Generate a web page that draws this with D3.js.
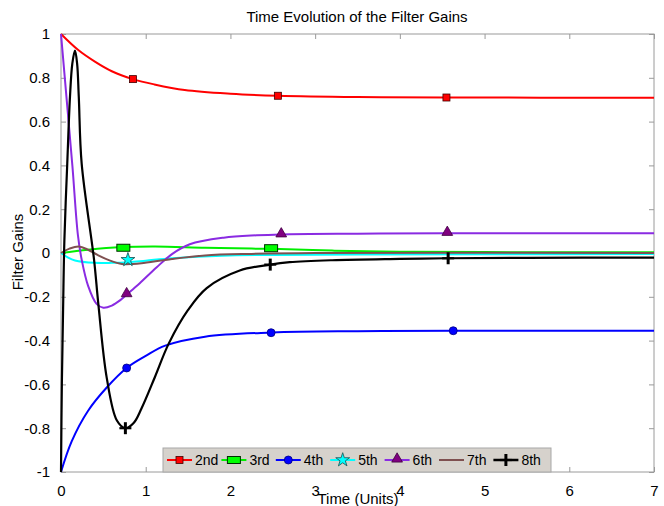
<!DOCTYPE html>
<html>
<head>
<meta charset="utf-8">
<script src="https://cdn.jsdelivr.net/npm/d3@7"></script>
<style>
  body { margin: 0; background: #fff; }
  text { font-family: "Liberation Sans", Arial, sans-serif; fill: #000; }
</style>
</head>
<body>
<div id="chart"></div>
<script>
// values
const xTicks = [0, 1, 2, 3, 4, 5, 6, 7];
const yTicks = [-1, -0.8, -0.6, -0.4, -0.2, 0, 0.2, 0.4, 0.6, 0.8, 1];
const yTickLabels = ["-1", "-0.8", "-0.6", "-0.4", "-0.2", "0", "0.2", "0.4", "0.6", "0.8", "1"];

const t2 = [0, 0.2, 0.4, 0.6, 0.85, 1.1, 1.46, 2, 2.56, 3.5, 4.55, 7];
const v2 = [1, 0.928, 0.874, 0.83, 0.794, 0.77, 0.744, 0.727, 0.718, 0.712, 0.71, 0.709];

const t3 = [0, 0.32, 0.72, 1.11, 1.7, 2.25, 2.48, 3.2, 4, 5, 7];
const v3 = [0, 0.015, 0.027, 0.03, 0.024, 0.02, 0.019, 0.011, 0.006, 0.004, 0.003];

const t4 = [0, 0.126, 0.32, 0.54, 0.775, 1.0, 1.23, 1.7, 2.49, 3.5, 4.63, 7];
const v4 = [-1, -0.86, -0.72, -0.614, -0.525, -0.47, -0.423, -0.382, -0.363, -0.357, -0.355, -0.355];

const t5 = [0, 0.08, 0.165, 0.4, 0.6, 0.795, 1.0, 1.31, 1.9, 2.5, 3.5, 5, 7];
const v5 = [0, -0.02, -0.034, -0.045, -0.045, -0.042, -0.035, -0.024, -0.012, -0.009, -0.007, -0.006, -0.005];

const t6 = [0, 0.067, 0.134, 0.2, 0.244, 0.32, 0.42, 0.5, 0.6, 0.7, 0.775, 0.85, 0.93, 1.13, 1.31, 1.52, 1.92, 2.31, 2.6, 3.5, 4.55, 7];
const v6 = [1, 0.7, 0.4, 0.08, -0.03, -0.15, -0.232, -0.25, -0.24, -0.215, -0.19, -0.165, -0.138, -0.065, -0.005, 0.04, 0.07, 0.081, 0.085, 0.088, 0.09, 0.09];

const t7 = [0, 0.1, 0.21, 0.32, 0.44, 0.58, 0.72, 0.85, 0.95, 1.31, 1.7, 2.25, 3, 7];
const v7 = [0, 0.02, 0.03, 0.015, -0.011, -0.035, -0.05, -0.05, -0.047, -0.027, -0.011, -0.004, 0, 0];

const t8 = [0, 0.01, 0.025, 0.04, 0.074, 0.106, 0.134, 0.165, 0.19, 0.21, 0.244, 0.39, 0.44, 0.54, 0.66, 0.76, 0.86, 0.95, 1.11, 1.27, 1.5, 1.72, 2.11, 2.47, 2.7, 3.2, 4.0, 4.55, 5.5, 7];
const v8 = [-1, -0.6, -0.25, 0.06, 0.41, 0.713, 0.866, 0.924, 0.866, 0.713, 0.408, -0.03, -0.23, -0.57, -0.765, -0.8, -0.775, -0.71, -0.565, -0.415, -0.26, -0.16, -0.08, -0.053, -0.042, -0.033, -0.027, -0.024, -0.022, -0.021];

// marker positions
const m2t = [0.85, 2.56, 4.55], m2v = [0.794, 0.718, 0.71];
const m3t = [0.736, 2.48], m3v = [0.024, 0.022];
const m4t = [0.775, 2.48, 4.63], m4v = [-0.525, -0.364, -0.355];
const m5t = [0.79], m5v = [-0.031];
const m6t = [0.775, 2.6, 4.56], m6v = [-0.19, 0.083, 0.09];
const m7t = [], m7v = [];
const m8t = [0.76, 2.47, 4.57], m8v = [-0.8, -0.053, -0.024];

const names = ["2nd", "3rd", "4th", "5th", "6th", "7th", "8th"];
const colors = ["#ff0000", "#00ee00", "#0000ff", "#00ffff", "#8a2be2", "#7f5050", "#000000"];
const markerFill = ["#ff0000", "#00ff00", "#0000ff", "#00ffff", "#800080", null, "#000000"];
const markerType = ["square", "rect", "circle", "star", "triangle", "none", "plus"];

const series = [
  {t: t2, v: v2, mt: m2t, mv: m2v},
  {t: t3, v: v3, mt: m3t, mv: m3v},
  {t: t4, v: v4, mt: m4t, mv: m4v},
  {t: t5, v: v5, mt: m5t, mv: m5v},
  {t: t6, v: v6, mt: m6t, mv: m6v},
  {t: t7, v: v7, mt: m7t, mv: m7v},
  {t: t8, v: v8, mt: m8t, mv: m8v}
];

const width = 664, height = 506;
const pLeft = 61, pRight = 654, pTop = 34, pBottom = 472;

const svg = d3.select("#chart").append("svg")
  .attr("width", width)
  .attr("height", height);

const x = d3.scaleLinear().domain([0, 7]).range([pLeft, pRight]);
const y = d3.scaleLinear().domain([-1, 1]).range([pBottom, pTop]);

// frame
svg.append("rect")
  .attr("x", pLeft).attr("y", pTop)
  .attr("width", pRight - pLeft).attr("height", pBottom - pTop)
  .attr("fill", "none").attr("stroke", "#9a9a9a").attr("stroke-width", 1);

// axes with inward ticks on all four sides
const axisStyle = g => {
  g.select(".domain").remove();
  g.selectAll(".tick line").attr("stroke", "#9a9a9a");
  g.selectAll(".tick text").style("font-size", "15px").attr("fill", "#000");
};

svg.append("g").attr("transform", `translate(0,${pBottom})`)
  .call(d3.axisBottom(x).tickValues(xTicks).tickSizeInner(-5).tickPadding(13).tickFormat(d3.format("d")))
  .call(axisStyle);
svg.append("g").attr("transform", `translate(0,${pTop})`)
  .call(d3.axisTop(x).tickValues(xTicks).tickSizeInner(-5).tickFormat(""))
  .call(axisStyle);
svg.append("g").attr("transform", `translate(${pLeft},0)`)
  .call(d3.axisLeft(y).tickValues(yTicks).tickSizeInner(-5).tickPadding(11).tickFormat((d, i) => yTickLabels[i]))
  .call(axisStyle);
svg.append("g").attr("transform", `translate(${pRight},0)`)
  .call(d3.axisRight(y).tickValues(yTicks).tickSizeInner(-5).tickFormat(""))
  .call(axisStyle);

// curves
const line = d3.line()
  .x(d => x(d[0]))
  .y(d => y(d[1]))
  .curve(d3.curveCatmullRom.alpha(0.5));

const plot = svg.append("g");
series.forEach((s, i) => {
  const pts = s.t.map((t, k) => [t, s.v[k]]);
  plot.append("path")
    .attr("d", line(pts))
    .attr("fill", "none")
    .attr("stroke", colors[i])
    .attr("stroke-width", i === 6 ? 2.2 : 2)
    .attr("stroke-linejoin", "round");
});

function drawMarker(g, type, cx, cy, fill) {
  if (type === "square") {
    g.append("rect").attr("x", cx - 3.5).attr("y", cy - 3.5).attr("width", 7).attr("height", 7)
      .attr("fill", fill).attr("stroke", "#400000").attr("stroke-width", 0.8);
  } else if (type === "rect") {
    g.append("rect").attr("x", cx - 6.5).attr("y", cy - 3.5).attr("width", 13).attr("height", 7)
      .attr("fill", fill).attr("stroke", "#003000").attr("stroke-width", 1);
  } else if (type === "circle") {
    g.append("circle").attr("cx", cx).attr("cy", cy).attr("r", 4)
      .attr("fill", fill).attr("stroke", "#000080").attr("stroke-width", 0.8);
  } else if (type === "star") {
    g.append("path").attr("d", d3.symbol(d3.symbolStar, 60)())
      .attr("transform", `translate(${cx},${cy})`)
      .attr("fill", fill).attr("stroke", "#206060").attr("stroke-width", 0.9);
  } else if (type === "triangle") {
    g.append("path").attr("d", d3.symbol(d3.symbolTriangle, 50)())
      .attr("transform", `translate(${cx},${cy - 1})`)
      .attr("fill", fill).attr("stroke", "#400040").attr("stroke-width", 0.8);
  } else if (type === "plus") {
    g.append("line").attr("x1", cx).attr("x2", cx).attr("y1", cy - 6).attr("y2", cy + 6)
      .attr("stroke", fill).attr("stroke-width", 3);
    g.append("line").attr("x1", cx - 6).attr("x2", cx + 6).attr("y1", cy).attr("y2", cy)
      .attr("stroke", fill).attr("stroke-width", 2.2);
  }
}

series.forEach((s, i) => {
  s.mt.forEach((t, k) => drawMarker(plot, markerType[i], x(t), y(s.mv[k]), markerFill[i]));
});

// legend
const legend = svg.append("g");
const lgX = 163, lgY = 448, lgW = 388, lgH = 24, step = 54.4;
legend.append("rect")
  .attr("x", lgX).attr("y", lgY).attr("width", lgW).attr("height", lgH)
  .attr("fill", "#d6d2cc").attr("stroke", "#a8a8a8").attr("stroke-width", 1);
names.forEach((n, i) => {
  const x0 = lgX + 4 + i * step;
  const cy = lgY + lgH / 2;
  legend.append("line")
    .attr("x1", x0).attr("x2", x0 + 25).attr("y1", cy).attr("y2", cy)
    .attr("stroke", colors[i]).attr("stroke-width", i === 6 ? 2.5 : 2);
  drawMarker(legend, markerType[i], x0 + 12.5, cy, markerFill[i]);
  legend.append("text")
    .attr("x", x0 + 28).attr("y", cy + 5)
    .style("font-size", "14px")
    .text(n);
});

// title and labels
svg.append("text")
  .attr("x", 357).attr("y", 22)
  .attr("text-anchor", "middle")
  .style("font-size", "15px")
  .text("Time Evolution of the Filter Gains");

svg.append("text")
  .attr("x", 358).attr("y", 504)
  .attr("text-anchor", "middle")
  .style("font-size", "15px")
  .text("Time (Units)");

svg.append("text")
  .attr("transform", "translate(23,252) rotate(-90)")
  .attr("text-anchor", "middle")
  .style("font-size", "15px")
  .text("Filter Gains");
</script>
</body>
</html>
